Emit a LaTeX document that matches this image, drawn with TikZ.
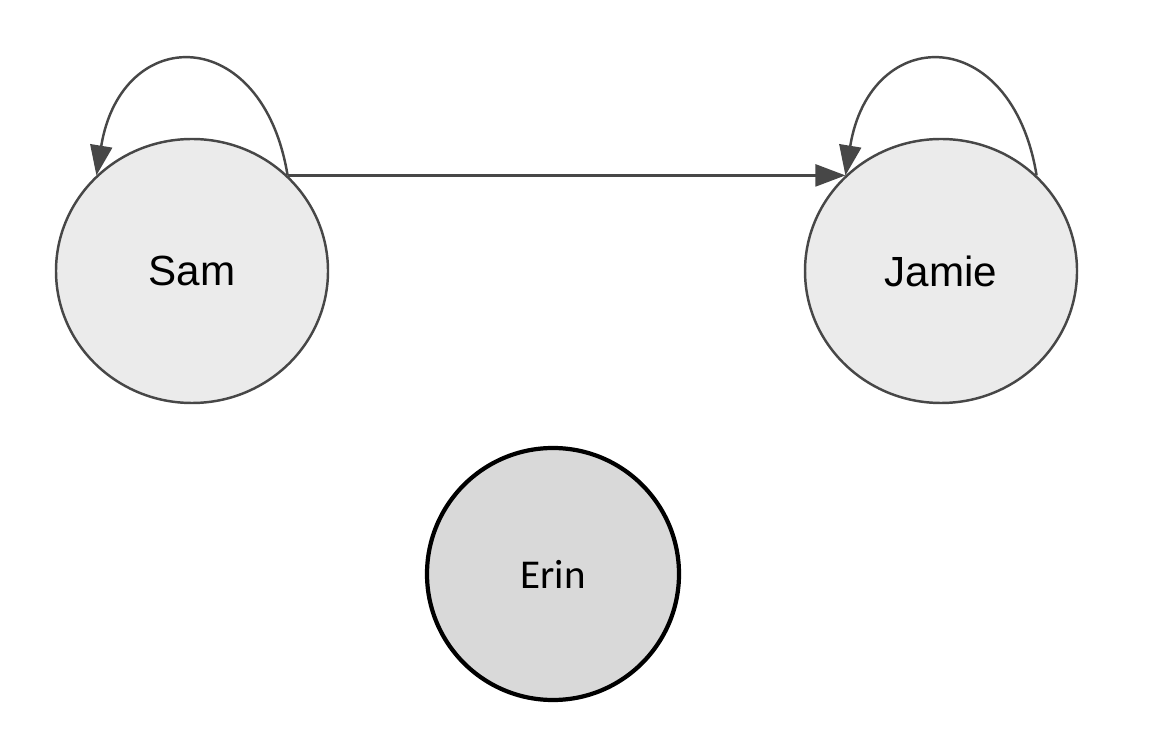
\documentclass[tikz,border=0pt]{standalone}
\usepackage{fontspec}
\setmainfont{Liberation Sans}
\newfontfamily\erinfont{Carlito}
\usepackage{xcolor}
\usetikzlibrary{shapes.geometric, positioning, arrows.meta}

\definecolor{edgegray}{HTML}{474747}
\definecolor{nodefill}{HTML}{EBEBEB}
\definecolor{erinfill}{HTML}{D9D9D9}

\begin{document}
\begin{tikzpicture}[
    person/.style={ellipse, draw=edgegray, line width=1.4pt, fill=nodefill,
        minimum width=5.44cm, minimum height=5.28cm, inner sep=0pt,
        font=\fontsize{24pt}{28pt}\selectfont},
    lonely/.style={circle, draw=black, line width=2.4pt, fill=erinfill,
        minimum size=5.04cm, inner sep=0pt,
        font=\erinfont\fontsize{23.3pt}{28pt}\selectfont},
    link/.style={draw=edgegray, line width=1.4pt,
        -{Triangle[length=0.6cm, width=0.44cm]}}
]
    % Canvas
    \useasboundingbox (0,0) rectangle (23.48,15.04);

    % People
    \node[person] (sam) at (3.84,9.62) {Sam};
    \node[person] (jamie) at (18.82,9.62) {Jamie};
    \node[lonely] (erin) at (11.06,3.56) {Erin};

    % Self loops
    \draw[link] (sam.45) .. controls +(-0.5,3.05) and +(0.5,3.05) .. (sam.135);
    \draw[link] (jamie.45) .. controls +(-0.5,3.05) and +(0.5,3.05) .. (jamie.135);

    % Sam -> Jamie
    \draw[link] (sam.45) -- (jamie.135);
\end{tikzpicture}
\end{document}
